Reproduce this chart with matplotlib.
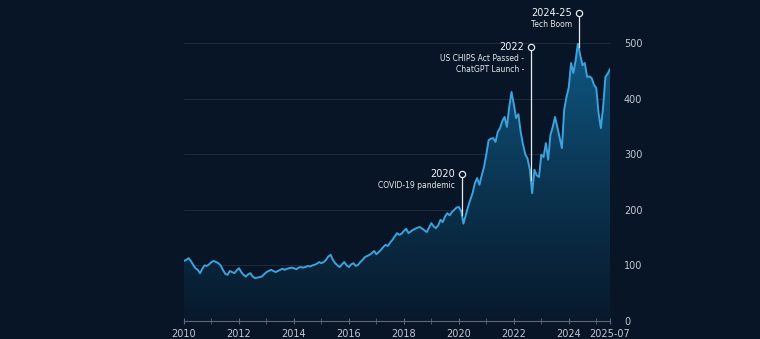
import matplotlib
matplotlib.use("Agg")
import matplotlib.pyplot as plt
import numpy as np
from matplotlib.colors import LinearSegmentedColormap

# monthly index values, 2010-01 .. 2025-07
v2010 = [108, 110, 113, 108, 101, 95, 92, 86, 94, 100, 99, 102]
v2011 = [106, 108, 106, 104, 100, 92, 85, 83, 90, 88, 86, 91]
v2012 = [95, 88, 83, 80, 84, 86, 80, 77, 78, 79, 80, 84]
v2013 = [88, 90, 92, 90, 88, 90, 92, 94, 92, 94, 95, 96]
v2014 = [95, 93, 96, 97, 96, 97, 99, 98, 100, 101, 103, 106]
v2015 = [104, 106, 110, 116, 119, 110, 104, 100, 97, 102, 106, 100]
v2016 = [97, 102, 104, 99, 101, 106, 110, 115, 117, 119, 122, 126]
v2017 = [120, 124, 128, 133, 137, 135, 141, 146, 152, 158, 155, 157]
v2018 = [162, 166, 158, 161, 164, 166, 168, 169, 166, 163, 160, 168]
v2019 = [176, 170, 167, 172, 182, 178, 188, 194, 190, 196, 200, 204]
v2020 = [205, 198, 175, 190, 205, 218, 230, 248, 257, 245, 262, 277]
v2021 = [300, 325, 328, 329, 322, 340, 347, 360, 367, 349, 385, 412]
v2022 = [390, 365, 372, 340, 318, 300, 292, 272, 230, 272, 262, 259]
v2023 = [299, 295, 320, 290, 335, 349, 367, 349, 330, 311, 380, 403]
v2024 = [420, 464, 446, 469, 500, 478, 460, 464, 439, 440, 437, 425]
v2025 = [419, 374, 347, 385, 439, 445, 453]

values = np.array(v2010 + v2011 + v2012 + v2013 + v2014 + v2015 + v2016 + v2017
                  + v2018 + v2019 + v2020 + v2021 + v2022 + v2023 + v2024 + v2025, dtype=float)
dates = 2010 + np.arange(len(values)) / 12.0

tick_pos = [2010, 2012, 2014, 2016, 2018, 2020, 2022, 2024, 2025.5]
tick_lab = ["2010", "2012", "2014", "2016", "2018", "2020", "2022", "2024", "2025-07"]
y_ticks = [0, 100, 200, 300, 400, 500]

# events: (date, marker height, year label, description lines)
ev_dates = [2020.11, 2022.62, 2024.36]
ev_tops = [264, 493, 554]
ev_years = ["2020", "2022", "2024-25"]
ev_texts = [["COVID-19 pandemic"], ["US CHIPS Act Passed -", "ChatGPT Launch -"], ["Tech Boom"]]

bg = "#071526"
fig = plt.figure(figsize=(7.6, 3.39), dpi=100, facecolor=bg)
ax = fig.add_axes([184/760, 1-321/339, 426/760, 278/339])
ax.set_facecolor(bg)

# gradient fill under the line
cmap = LinearSegmentedColormap.from_list("g", ["#08192b", "#0b3552", "#0f5883"])
grad = np.linspace(0, 1, 256).reshape(-1, 1)
im = ax.imshow(grad, extent=[2010, 2025.5, 0, 500], origin="lower", aspect="auto",
               cmap=cmap, zorder=1)
poly = ax.fill_between(dates, values, 0, color="none", zorder=1)
im.set_clip_path(poly.get_paths()[0], transform=ax.transData)

ax.plot(dates, values, color="#3da2dc", lw=1.4, zorder=3)

for yv in y_ticks[1:]:
    ax.axhline(yv, color="#243040", lw=0.6, zorder=0)

ax.set_xlim(2010, 2025.5)
ax.set_ylim(0, 500)

for s in ["top", "left", "right"]:
    ax.spines[s].set_visible(False)
ax.spines["bottom"].set_color("#5d6875")
ax.spines["bottom"].set_linewidth(0.8)

ax.set_xticks(tick_pos)
ax.set_xticklabels(tick_lab)
ax.set_xticks(np.arange(2011, 2026, 1), minor=True)
ax.tick_params(axis="x", which="both", direction="inout", length=4, color="#5d6875",
               labelcolor="#c3c9d1", labelsize=7, pad=4)
ax.yaxis.tick_right()
ax.set_yticks(y_ticks)
ax.tick_params(axis="y", length=0, labelcolor="#c3c9d1", labelsize=7, pad=10)

# event markers
for d, top, yr, lines in zip(ev_dates, ev_tops, ev_years, ev_texts):
    base = np.interp(d, dates, values)
    ax.plot([d, d], [base, top], color="#e6e9ee", lw=0.9, zorder=4, clip_on=False)
    ax.plot([d], [top], marker="o", ms=4.5, mfc=bg, mec="#e6e9ee", mew=0.9,
            zorder=5, clip_on=False)
    ax.annotate(yr, (d, top), xytext=(-5, 0), textcoords="offset points",
                ha="right", va="center", color="#f2f4f7", fontsize=7, annotation_clip=False)
    for k, t in enumerate(lines):
        ax.annotate(t, (d, top), xytext=(-5, -8 - 8 * k), textcoords="offset points",
                    ha="right", va="center", color="#e6e9ee", fontsize=5.5,
                    annotation_clip=False)

fig.savefig("out.png", dpi=100, facecolor=bg)
